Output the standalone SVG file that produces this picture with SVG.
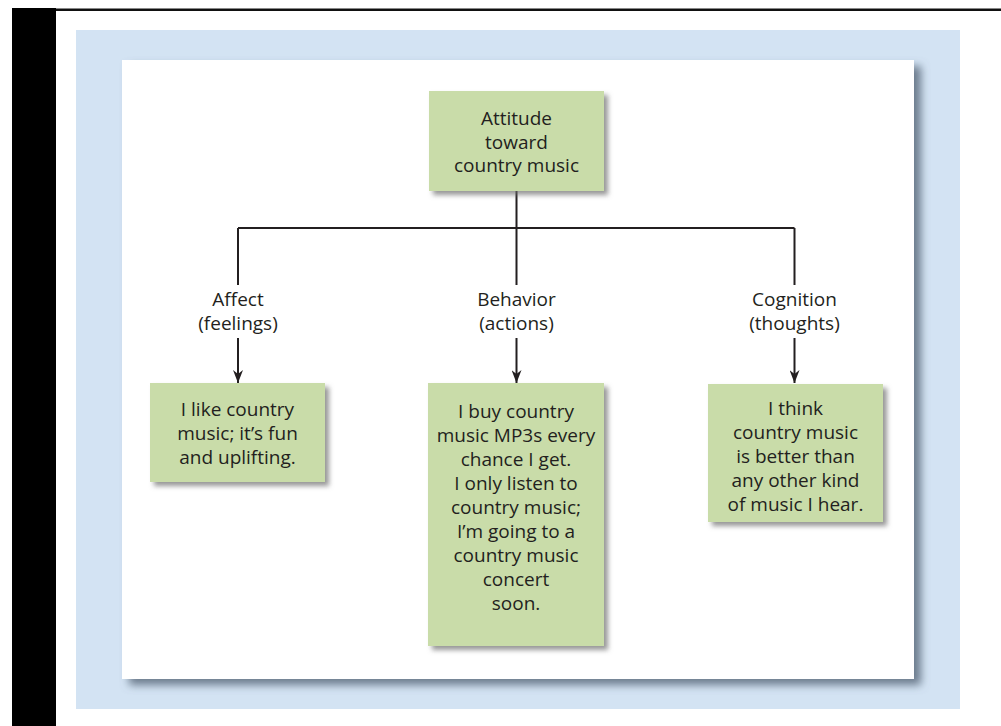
<svg xmlns="http://www.w3.org/2000/svg" width="1001" height="726" viewBox="0 0 1001 726">
<defs>
<filter id="panelShadow" x="-10%" y="-10%" width="120%" height="120%">
<feGaussianBlur in="SourceAlpha" stdDeviation="4"/>
<feOffset dx="7" dy="6" result="b"/>
<feFlood flood-color="#5a6a7c" flood-opacity="0.85"/>
<feComposite in2="b" operator="in"/>
<feMerge><feMergeNode/><feMergeNode in="SourceGraphic"/></feMerge>
</filter>
<filter id="boxShadow" x="-10%" y="-10%" width="125%" height="125%">
<feGaussianBlur in="SourceAlpha" stdDeviation="2.5"/>
<feOffset dx="4" dy="4" result="b"/>
<feFlood flood-color="#6b6b6b" flood-opacity="0.7"/>
<feComposite in2="b" operator="in"/>
<feMerge><feMergeNode/><feMergeNode in="SourceGraphic"/></feMerge>
</filter>
<marker id="arrow" markerWidth="10" markerHeight="14" refX="5" refY="13" orient="0" markerUnits="userSpaceOnUse">
<path d="M0,0 L5,13 L10,0 L5,4 Z" fill="#231f20"/>
</marker>
<style>
.box{fill:#c9dca9;filter:url(#boxShadow)}
.t{font-family:"Open Sans","Noto Sans",sans-serif;font-size:19px;fill:#231f20;text-anchor:middle}
.ln{stroke:#231f20;stroke-width:2;fill:none}
</style>
</defs>
<rect x="0" y="0" width="1001" height="726" fill="#ffffff"/>
<rect x="12" y="8" width="44" height="718" fill="#000000"/>
<rect x="56" y="8" width="945" height="1" fill="#888888"/>
<rect x="56" y="9" width="945" height="2" fill="#111111"/>
<rect x="76" y="30" width="884" height="679" fill="#d3e3f3"/>
<rect x="122" y="60" width="792" height="619" fill="#ffffff" filter="url(#panelShadow)"/>
<g id="connectors">
<path class="ln" d="M516.5,191 V228 M238,228 H794.5"/>
<path class="ln" d="M238,228 V285 M516.5,228 V285 M794.5,228 V285"/>
<path class="ln" d="M238,338 V383" marker-end="url(#arrow)"/>
<path class="ln" d="M516.5,338 V383" marker-end="url(#arrow)"/>
<path class="ln" d="M794.5,338 V383" marker-end="url(#arrow)"/>
</g>
<g id="labels">
<text class="t" x="238" y="306">Affect</text>
<text class="t" x="238" y="330">(feelings)</text>
<text class="t" x="516.5" y="306">Behavior</text>
<text class="t" x="516.5" y="330">(actions)</text>
<text class="t" x="794.5" y="306">Cognition</text>
<text class="t" x="794.5" y="330">(thoughts)</text>
</g>
<g id="attitude">
<rect class="box" x="429" y="91" width="175" height="100"/>
<text class="t" x="516.5" y="125">Attitude</text>
<text class="t" x="516.5" y="148.5">toward</text>
<text class="t" x="516.5" y="172">country music</text>
</g>
<g id="affect">
<rect class="box" x="150" y="383" width="175" height="99"/>
<text class="t" x="237.5" y="416">I like country</text>
<text class="t" x="237.5" y="440">music; it’s fun</text>
<text class="t" x="237.5" y="464">and uplifting.</text>
</g>
<g id="behavior">
<rect class="box" x="428" y="383" width="176" height="263"/>
<text class="t" x="516" y="418">I buy country</text>
<text class="t" x="516" y="442">music MP3s every</text>
<text class="t" x="516" y="466">chance I get.</text>
<text class="t" x="516" y="490">I only listen to</text>
<text class="t" x="516" y="514">country music;</text>
<text class="t" x="516" y="538">I’m going to a</text>
<text class="t" x="516" y="562">country music</text>
<text class="t" x="516" y="586">concert</text>
<text class="t" x="516" y="610">soon.</text>
</g>
<g id="cognition">
<rect class="box" x="708" y="384" width="175" height="138"/>
<text class="t" x="795.5" y="415">I think</text>
<text class="t" x="795.5" y="439">country music</text>
<text class="t" x="795.5" y="463">is better than</text>
<text class="t" x="795.5" y="487">any other kind</text>
<text class="t" x="795.5" y="511">of music I hear.</text>
</g>
</svg>
